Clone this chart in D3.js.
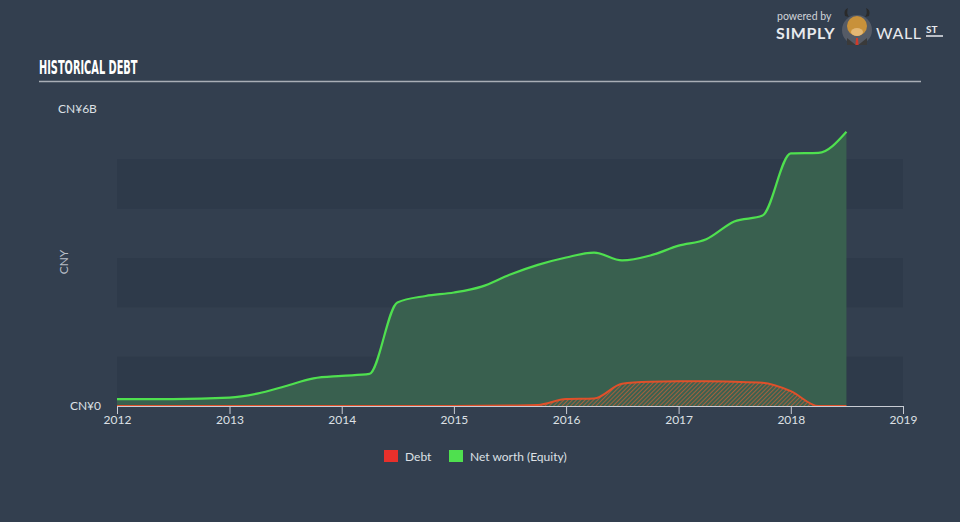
<!DOCTYPE html>
<html><head><meta charset="utf-8">
<script src="https://cdn.jsdelivr.net/npm/d3@7"></script>
<style>
html,body{margin:0;padding:0;background:#333f4f;}
svg{display:block;font-family:Lato,"Open Sans",sans-serif;}
</style></head>
<body>
<svg id="c" width="960" height="522"></svg>
<script>
const equityDates = ["2012-01-01","2012-07-01","2013-01-01","2013-04-01","2013-07-01","2013-10-01","2014-01-01","2014-04-01","2014-07-01","2014-10-01","2015-01-01","2015-04-01","2015-07-01","2015-10-01","2016-01-01","2016-04-01","2016-07-01","2016-10-01","2017-01-01","2017-04-01","2017-07-01","2017-10-01","2018-01-01","2018-04-01","2018-07-01"];
const equityValues = [0.14,0.14,0.17,0.25,0.40,0.56,0.61,0.65,2.10,2.23,2.30,2.42,2.66,2.86,3.01,3.11,2.95,3.05,3.25,3.38,3.74,3.86,5.12,5.13,5.56];
const debtDates = ["2012-01-01","2015-01-01","2015-07-01","2015-10-01","2016-01-01","2016-04-01","2016-07-01","2016-10-01","2017-01-01","2017-04-01","2017-07-01","2017-10-01","2018-01-01","2018-04-01","2018-07-01"];
const debtValues = [0,0,0.01,0.02,0.14,0.15,0.45,0.49,0.50,0.50,0.49,0.47,0.30,0.0,0.0];
const yTickLabels = ["CN¥0","CN¥6B"];
const xTickYears = [2012,2013,2014,2015,2016,2017,2018,2019];
const legendItems = [{name:"Debt",color:"#e8302b"},{name:"Net worth (Equity)",color:"#4fe04f"}];

const svg = d3.select("#c");
const parse = d3.timeParse("%Y-%m-%d");
const equity = equityDates.map((d,i)=>({date:parse(d),v:equityValues[i]}));
const debt = debtDates.map((d,i)=>({date:parse(d),v:debtValues[i]}));

const x = d3.scaleTime().domain([new Date(2012,0,1), new Date(2019,0,1)]).range([117,903]);
const y = d3.scaleLinear().domain([0,6]).range([406,110]);

// bands
const bandIdx = [0,2,4];
svg.append("g").selectAll("rect").data(bandIdx).join("rect")
  .attr("x",x.range()[0]).attr("width",x.range()[1]-x.range()[0])
  .attr("y",d=>y(d+1)).attr("height",d=>y(d)-y(d+1))
  .attr("fill","#2e3a4a");

// defs hatch
const defs = svg.append("defs");
const pat = defs.append("pattern").attr("id","hatch").attr("patternUnits","userSpaceOnUse")
  .attr("width",3).attr("height",3).attr("patternTransform","rotate(45)");
pat.append("rect").attr("width",3).attr("height",3).attr("fill","#3b6150");
pat.append("rect").attr("width",1).attr("height",3).attr("fill","#b5603a").attr("opacity",0.85);

const area = d3.area().x(d=>x(d.date)).y0(y(0)).y1(d=>y(d.v)).curve(d3.curveMonotoneX);
const line = d3.line().x(d=>x(d.date)).y(d=>y(d.v)).curve(d3.curveMonotoneX);

svg.append("path").datum(equity).attr("d",area).attr("fill","#3a6150").attr("opacity",0.97);
svg.append("path").datum(debt).attr("d",area).attr("fill","url(#hatch)");
svg.append("path").datum(debt).attr("d",line).attr("fill","none").attr("stroke","#e0502a").attr("stroke-width",2);
svg.append("path").datum(equity).attr("d",line).attr("fill","none").attr("stroke","#4fe04f").attr("stroke-width",2.2);

// x axis
const xAxis = d3.axisBottom(x).tickValues(xTickYears.map(yv=>new Date(yv,0,1)))
  .tickFormat(d3.timeFormat("%Y")).tickSize(8).tickSizeOuter(0);
const gx = svg.append("g").attr("transform",`translate(0,${y(0)})`).call(xAxis);
gx.select(".domain").attr("stroke","#c8ccd4").attr("stroke-width",1.2);
gx.selectAll(".tick line").attr("stroke","#c8ccd4");
gx.selectAll(".tick text").attr("fill","#dde0e5").attr("font-size",12).attr("dy","0.6em").attr("font-family","Lato,'Open Sans',sans-serif");

// y labels
svg.append("text").attr("x",101).attr("y",y(0)+4).attr("text-anchor","end").attr("fill","#dde0e5").attr("font-size",12).text(yTickLabels[0]);
svg.append("text").attr("x",58).attr("y",y(6)+3).attr("fill","#dde0e5").attr("font-size",12).text(yTickLabels[1]);
svg.append("text").attr("transform","translate(68,262) rotate(-90)").attr("text-anchor","middle").attr("fill","#b8bdc6").attr("font-size",12).text("CNY");

// title
svg.append("text").attr("x",39).attr("y",74.5).attr("fill","#ffffff").attr("font-size",20).attr("font-weight","bold")
  .attr("font-family","'DejaVu Sans Condensed','Liberation Sans Narrow',sans-serif")
  .attr("transform","translate(39,74.5) scale(0.545,1) translate(-39,-74.5)")
  .text("HISTORICAL DEBT");
svg.append("line").attr("x1",39).attr("x2",921).attr("y1",81.5).attr("y2",81.5).attr("stroke","#a9aeb6").attr("stroke-width",1.3);

// legend
const lg = svg.append("g");
const lx = [384,449];
legendItems.forEach((it,i)=>{
  lg.append("rect").attr("x",lx[i]).attr("y",450).attr("width",14).attr("height",12).attr("fill",it.color);
  lg.append("text").attr("x",lx[i]+21).attr("y",461).attr("fill","#dde0e5").attr("font-size",12).text(it.name);
});

// logo
const logo = svg.append("g");
logo.append("text").attr("x",777).attr("y",20).attr("fill","#d0d4da").attr("font-size",10.5).text("powered by");
logo.append("text").attr("x",776).attr("y",39).attr("fill","#e8eaee").attr("font-size",16).attr("font-weight","bold").attr("letter-spacing","0.6").text("SIMPLY");
logo.append("text").attr("x",876).attr("y",39).attr("fill","#e8eaee").attr("font-size",16).attr("letter-spacing","0.6").text("WALL");
logo.append("text").attr("x",926).attr("y",33).attr("fill","#e8eaee").attr("font-size",10).attr("font-weight","bold").text("ST");
logo.append("line").attr("x1",926).attr("x2",943).attr("y1",36).attr("y2",36).attr("stroke","#e8eaee").attr("stroke-width",1.5);
const bull = logo.append("g").attr("transform","translate(857,30)");
bull.append("circle").attr("r",15).attr("fill","#555b66");
bull.append("path").attr("d","M-12,-14 Q-14,-20 -9,-22 Q-11,-17 -8,-13 Z").attr("fill","#2a2a2a");
bull.append("path").attr("d","M12,-14 Q14,-20 9,-22 Q11,-17 8,-13 Z").attr("fill","#2a2a2a");
bull.append("ellipse").attr("cx",0).attr("cy",-4).attr("rx",10).attr("ry",10).attr("fill","#c8913a");
bull.append("ellipse").attr("cx",0).attr("cy",2).attr("rx",6).attr("ry",4).attr("fill","#e3b774");
bull.append("path").attr("d","M-10,8 L0,16 L10,8 L10,15 L-10,15 Z").attr("fill","#3a3a3a");
bull.append("path").attr("d","M-1,8 L1,8 L1.5,15 L-1.5,15 Z").attr("fill","#d03a2a");
</script>
</body></html>
